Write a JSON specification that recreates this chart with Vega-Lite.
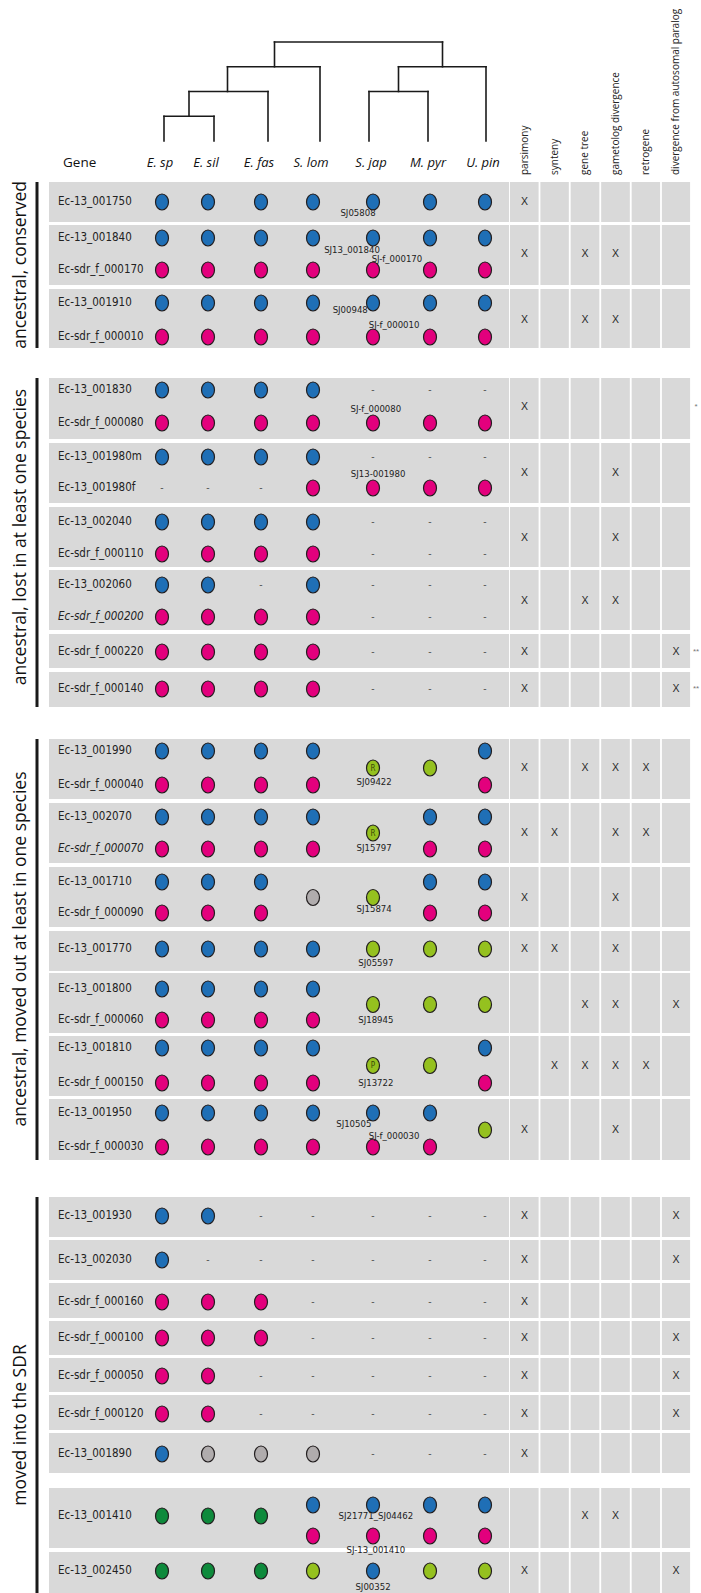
{
"$schema":"https://vega.github.io/schema/vega-lite/v6.json",
"width":701,"height":1593,"autosize":{"type":"none"},"padding":0,"background":"#ffffff",
"config":{"view":{"stroke":null}},
"datasets":{
"tree":[
{"pos":3.125,"pos2":6.25,"depth":0,"depth2":0},
{"pos":2.25,"pos2":4,"depth":1,"depth2":1},
{"pos":5.5,"pos2":7,"depth":1,"depth2":1},
{"pos":1.5,"pos2":3,"depth":2,"depth2":2},
{"pos":5,"pos2":6,"depth":2,"depth2":2},
{"pos":1,"pos2":2,"depth":3,"depth2":3},
{"pos":3.125,"pos2":3.125,"depth":0,"depth2":1},
{"pos":6.25,"pos2":6.25,"depth":0,"depth2":1},
{"pos":2.25,"pos2":2.25,"depth":1,"depth2":2},
{"pos":4,"pos2":4,"depth":1,"depth2":4},
{"pos":5.5,"pos2":5.5,"depth":1,"depth2":2},
{"pos":7,"pos2":7,"depth":1,"depth2":4},
{"pos":1.5,"pos2":1.5,"depth":2,"depth2":3},
{"pos":3,"pos2":3,"depth":2,"depth2":4},
{"pos":5,"pos2":5,"depth":2,"depth2":4},
{"pos":6,"pos2":6,"depth":2,"depth2":4},
{"pos":1,"pos2":1,"depth":3,"depth2":4},
{"pos":2,"pos2":2,"depth":3,"depth2":4}
],
"headers":[
{"label":"Gene","col":0,"kind":"gene"},
{"label":"E. sp","col":1,"kind":"species"},
{"label":"E. sil","col":2,"kind":"species"},
{"label":"E. fas","col":3,"kind":"species"},
{"label":"S. lom","col":4,"kind":"species"},
{"label":"S. jap","col":5,"kind":"species"},
{"label":"M. pyr","col":6,"kind":"species"},
{"label":"U. pin","col":7,"kind":"species"},
{"label":"parsimony","col":9,"kind":"evidence"},
{"label":"synteny","col":10,"kind":"evidence"},
{"label":"gene tree","col":11,"kind":"evidence"},
{"label":"gametolog divergence","col":12,"kind":"evidence"},
{"label":"retrogene","col":13,"kind":"evidence"},
{"label":"divergence from autosomal paralog","col":14,"kind":"evidence"}
],
"sections":[
{"section":"ancestral, conserved","first":1,"last":5,"labelrow":2.84},
{"section":"ancestral, lost in at least one species","first":6,"last":15,"labelrow":10.47},
{"section":"ancestral, moved out at least in one species","first":16,"last":28,"labelrow":22},
{"section":"moved into the SDR","first":29,"last":37,"labelrow":34.31}
],
"panels":[
{"panel":"A","first":1,"last":1,"parsimony":"X","synteny":"","genetree":"","gametolog":"","retrogene":"","divergence":""},
{"panel":"B","first":2,"last":3,"parsimony":"X","synteny":"","genetree":"X","gametolog":"X","retrogene":"","divergence":""},
{"panel":"C","first":4,"last":5,"parsimony":"X","synteny":"","genetree":"X","gametolog":"X","retrogene":"","divergence":""},
{"panel":"D","first":6,"last":7,"parsimony":"X","synteny":"","genetree":"","gametolog":"","retrogene":"","divergence":""},
{"panel":"E","first":8,"last":9,"parsimony":"X","synteny":"","genetree":"","gametolog":"X","retrogene":"","divergence":""},
{"panel":"F","first":10,"last":11,"parsimony":"X","synteny":"","genetree":"","gametolog":"X","retrogene":"","divergence":""},
{"panel":"G","first":12,"last":13,"parsimony":"X","synteny":"","genetree":"X","gametolog":"X","retrogene":"","divergence":""},
{"panel":"H","first":14,"last":14,"parsimony":"X","synteny":"","genetree":"","gametolog":"","retrogene":"","divergence":"X"},
{"panel":"I","first":15,"last":15,"parsimony":"X","synteny":"","genetree":"","gametolog":"","retrogene":"","divergence":"X"},
{"panel":"J","first":16,"last":17,"parsimony":"X","synteny":"","genetree":"X","gametolog":"X","retrogene":"X","divergence":""},
{"panel":"K","first":18,"last":19,"parsimony":"X","synteny":"X","genetree":"","gametolog":"X","retrogene":"X","divergence":""},
{"panel":"L","first":20,"last":21,"parsimony":"X","synteny":"","genetree":"","gametolog":"X","retrogene":"","divergence":""},
{"panel":"M","first":22,"last":22,"parsimony":"X","synteny":"X","genetree":"","gametolog":"X","retrogene":"","divergence":""},
{"panel":"N","first":23,"last":24,"parsimony":"","synteny":"","genetree":"X","gametolog":"X","retrogene":"","divergence":"X"},
{"panel":"O","first":25,"last":26,"parsimony":"","synteny":"X","genetree":"X","gametolog":"X","retrogene":"X","divergence":""},
{"panel":"P","first":27,"last":28,"parsimony":"X","synteny":"","genetree":"","gametolog":"X","retrogene":"","divergence":""},
{"panel":"Q","first":29,"last":29,"parsimony":"X","synteny":"","genetree":"","gametolog":"","retrogene":"","divergence":"X"},
{"panel":"R","first":30,"last":30,"parsimony":"X","synteny":"","genetree":"","gametolog":"","retrogene":"","divergence":"X"},
{"panel":"S","first":31,"last":31,"parsimony":"X","synteny":"","genetree":"","gametolog":"","retrogene":"","divergence":""},
{"panel":"T","first":32,"last":32,"parsimony":"X","synteny":"","genetree":"","gametolog":"","retrogene":"","divergence":"X"},
{"panel":"U","first":33,"last":33,"parsimony":"X","synteny":"","genetree":"","gametolog":"","retrogene":"","divergence":"X"},
{"panel":"V","first":34,"last":34,"parsimony":"X","synteny":"","genetree":"","gametolog":"","retrogene":"","divergence":"X"},
{"panel":"W","first":35,"last":35,"parsimony":"X","synteny":"","genetree":"","gametolog":"","retrogene":"","divergence":""},
{"panel":"X","first":36,"last":36,"parsimony":"","synteny":"","genetree":"X","gametolog":"X","retrogene":"","divergence":""},
{"panel":"Y","first":37,"last":37,"parsimony":"X","synteny":"","genetree":"","gametolog":"","retrogene":"","divergence":"X"}
],
"genes":[
{"row":1,"gene":"Ec-13_001750","pseudo":false},
{"row":2,"gene":"Ec-13_001840","pseudo":false},
{"row":3,"gene":"Ec-sdr_f_000170","pseudo":false},
{"row":4,"gene":"Ec-13_001910","pseudo":false},
{"row":5,"gene":"Ec-sdr_f_000010","pseudo":false},
{"row":6,"gene":"Ec-13_001830","pseudo":false},
{"row":7,"gene":"Ec-sdr_f_000080","pseudo":false},
{"row":8,"gene":"Ec-13_001980m","pseudo":false},
{"row":9,"gene":"Ec-13_001980f","pseudo":false},
{"row":10,"gene":"Ec-13_002040","pseudo":false},
{"row":11,"gene":"Ec-sdr_f_000110","pseudo":false},
{"row":12,"gene":"Ec-13_002060","pseudo":false},
{"row":13,"gene":"Ec-sdr_f_000200","pseudo":true},
{"row":14,"gene":"Ec-sdr_f_000220","pseudo":false},
{"row":15,"gene":"Ec-sdr_f_000140","pseudo":false},
{"row":16,"gene":"Ec-13_001990","pseudo":false},
{"row":17,"gene":"Ec-sdr_f_000040","pseudo":false},
{"row":18,"gene":"Ec-13_002070","pseudo":false},
{"row":19,"gene":"Ec-sdr_f_000070","pseudo":true},
{"row":20,"gene":"Ec-13_001710","pseudo":false},
{"row":21,"gene":"Ec-sdr_f_000090","pseudo":false},
{"row":22,"gene":"Ec-13_001770","pseudo":false},
{"row":23,"gene":"Ec-13_001800","pseudo":false},
{"row":24,"gene":"Ec-sdr_f_000060","pseudo":false},
{"row":25,"gene":"Ec-13_001810","pseudo":false},
{"row":26,"gene":"Ec-sdr_f_000150","pseudo":false},
{"row":27,"gene":"Ec-13_001950","pseudo":false},
{"row":28,"gene":"Ec-sdr_f_000030","pseudo":false},
{"row":29,"gene":"Ec-13_001930","pseudo":false},
{"row":30,"gene":"Ec-13_002030","pseudo":false},
{"row":31,"gene":"Ec-sdr_f_000160","pseudo":false},
{"row":32,"gene":"Ec-sdr_f_000100","pseudo":false},
{"row":33,"gene":"Ec-sdr_f_000050","pseudo":false},
{"row":34,"gene":"Ec-sdr_f_000120","pseudo":false},
{"row":35,"gene":"Ec-13_001890","pseudo":false},
{"row":36,"gene":"Ec-13_001410","pseudo":false},
{"row":37,"gene":"Ec-13_002450","pseudo":false}
],
"orthologs":[
{"label":"SJ05808","row":1.25,"sp":4.75},
{"label":"SJ13_001840","row":2.38,"sp":4.65},
{"label":"SJ-f_000170","row":2.66,"sp":5.42},
{"label":"SJ00948","row":4.2,"sp":4.62},
{"label":"SJ-f_000010","row":4.65,"sp":5.37},
{"label":"SJ-f_000080","row":6.58,"sp":5.05},
{"label":"SJ13-001980","row":8.55,"sp":5.09},
{"label":"SJ09422","row":16.9,"sp":5.02},
{"label":"SJ15797","row":18.97,"sp":5.02},
{"label":"SJ15874","row":20.87,"sp":5.02},
{"label":"SJ05597","row":22.29,"sp":5.05},
{"label":"SJ18945","row":24,"sp":5.05},
{"label":"SJ13722","row":26,"sp":5.05},
{"label":"SJ10505","row":27.32,"sp":4.68},
{"label":"SJ-f_000030","row":27.68,"sp":5.37},
{"label":"SJ21771_SJ04462","row":36,"sp":5.05},
{"label":"SJ-13_001410","row":36.5,"sp":5.05},
{"label":"SJ00352","row":37.32,"sp":5.0}
],
"letters":[
{"row":16.5,"sp":5,"letter":"R"},
{"row":18.5,"sp":5,"letter":"R"},
{"row":25.5,"sp":5,"letter":"P"}
],
"notes":[
{"row":6.5,"note":"*"},
{"row":14,"note":"**"},
{"row":15,"note":"**"}
],
"calls":[
{"row":1,"sp":1,"state":"male"},{"row":1,"sp":2,"state":"male"},{"row":1,"sp":3,"state":"male"},{"row":1,"sp":4,"state":"male"},{"row":1,"sp":5,"state":"male"},{"row":1,"sp":6,"state":"male"},{"row":1,"sp":7,"state":"male"},
{"row":2,"sp":1,"state":"male"},{"row":2,"sp":2,"state":"male"},{"row":2,"sp":3,"state":"male"},{"row":2,"sp":4,"state":"male"},{"row":2,"sp":5,"state":"male"},{"row":2,"sp":6,"state":"male"},{"row":2,"sp":7,"state":"male"},
{"row":3,"sp":1,"state":"female"},{"row":3,"sp":2,"state":"female"},{"row":3,"sp":3,"state":"female"},{"row":3,"sp":4,"state":"female"},{"row":3,"sp":5,"state":"female"},{"row":3,"sp":6,"state":"female"},{"row":3,"sp":7,"state":"female"},
{"row":4,"sp":1,"state":"male"},{"row":4,"sp":2,"state":"male"},{"row":4,"sp":3,"state":"male"},{"row":4,"sp":4,"state":"male"},{"row":4,"sp":5,"state":"male"},{"row":4,"sp":6,"state":"male"},{"row":4,"sp":7,"state":"male"},
{"row":5,"sp":1,"state":"female"},{"row":5,"sp":2,"state":"female"},{"row":5,"sp":3,"state":"female"},{"row":5,"sp":4,"state":"female"},{"row":5,"sp":5,"state":"female"},{"row":5,"sp":6,"state":"female"},{"row":5,"sp":7,"state":"female"},
{"row":6,"sp":1,"state":"male"},{"row":6,"sp":2,"state":"male"},{"row":6,"sp":3,"state":"male"},{"row":6,"sp":4,"state":"male"},{"row":6,"sp":5,"state":"absent"},{"row":6,"sp":6,"state":"absent"},{"row":6,"sp":7,"state":"absent"},
{"row":7,"sp":1,"state":"female"},{"row":7,"sp":2,"state":"female"},{"row":7,"sp":3,"state":"female"},{"row":7,"sp":4,"state":"female"},{"row":7,"sp":5,"state":"female"},{"row":7,"sp":6,"state":"female"},{"row":7,"sp":7,"state":"female"},
{"row":8,"sp":1,"state":"male"},{"row":8,"sp":2,"state":"male"},{"row":8,"sp":3,"state":"male"},{"row":8,"sp":4,"state":"male"},{"row":8,"sp":5,"state":"absent"},{"row":8,"sp":6,"state":"absent"},{"row":8,"sp":7,"state":"absent"},
{"row":9,"sp":1,"state":"absent"},{"row":9,"sp":2,"state":"absent"},{"row":9,"sp":3,"state":"absent"},{"row":9,"sp":4,"state":"female"},{"row":9,"sp":5,"state":"female"},{"row":9,"sp":6,"state":"female"},{"row":9,"sp":7,"state":"female"},
{"row":10,"sp":1,"state":"male"},{"row":10,"sp":2,"state":"male"},{"row":10,"sp":3,"state":"male"},{"row":10,"sp":4,"state":"male"},{"row":10,"sp":5,"state":"absent"},{"row":10,"sp":6,"state":"absent"},{"row":10,"sp":7,"state":"absent"},
{"row":11,"sp":1,"state":"female"},{"row":11,"sp":2,"state":"female"},{"row":11,"sp":3,"state":"female"},{"row":11,"sp":4,"state":"female"},{"row":11,"sp":5,"state":"absent"},{"row":11,"sp":6,"state":"absent"},{"row":11,"sp":7,"state":"absent"},
{"row":12,"sp":1,"state":"male"},{"row":12,"sp":2,"state":"male"},{"row":12,"sp":3,"state":"absent"},{"row":12,"sp":4,"state":"male"},{"row":12,"sp":5,"state":"absent"},{"row":12,"sp":6,"state":"absent"},{"row":12,"sp":7,"state":"absent"},
{"row":13,"sp":1,"state":"female"},{"row":13,"sp":2,"state":"female"},{"row":13,"sp":3,"state":"female"},{"row":13,"sp":4,"state":"female"},{"row":13,"sp":5,"state":"absent"},{"row":13,"sp":6,"state":"absent"},{"row":13,"sp":7,"state":"absent"},
{"row":14,"sp":1,"state":"female"},{"row":14,"sp":2,"state":"female"},{"row":14,"sp":3,"state":"female"},{"row":14,"sp":4,"state":"female"},{"row":14,"sp":5,"state":"absent"},{"row":14,"sp":6,"state":"absent"},{"row":14,"sp":7,"state":"absent"},
{"row":15,"sp":1,"state":"female"},{"row":15,"sp":2,"state":"female"},{"row":15,"sp":3,"state":"female"},{"row":15,"sp":4,"state":"female"},{"row":15,"sp":5,"state":"absent"},{"row":15,"sp":6,"state":"absent"},{"row":15,"sp":7,"state":"absent"},
{"row":16,"sp":1,"state":"male"},{"row":16,"sp":2,"state":"male"},{"row":16,"sp":3,"state":"male"},{"row":16,"sp":4,"state":"male"},{"row":16,"sp":7,"state":"male"},
{"row":17,"sp":1,"state":"female"},{"row":17,"sp":2,"state":"female"},{"row":17,"sp":3,"state":"female"},{"row":17,"sp":4,"state":"female"},{"row":17,"sp":7,"state":"female"},
{"row":16.5,"sp":5,"state":"autosomal"},{"row":16.5,"sp":6,"state":"autosomal"},
{"row":18,"sp":1,"state":"male"},{"row":18,"sp":2,"state":"male"},{"row":18,"sp":3,"state":"male"},{"row":18,"sp":4,"state":"male"},{"row":18,"sp":6,"state":"male"},{"row":18,"sp":7,"state":"male"},
{"row":19,"sp":1,"state":"female"},{"row":19,"sp":2,"state":"female"},{"row":19,"sp":3,"state":"female"},{"row":19,"sp":4,"state":"female"},{"row":19,"sp":6,"state":"female"},{"row":19,"sp":7,"state":"female"},
{"row":18.5,"sp":5,"state":"autosomal"},
{"row":20,"sp":1,"state":"male"},{"row":20,"sp":2,"state":"male"},{"row":20,"sp":3,"state":"male"},{"row":20,"sp":6,"state":"male"},{"row":20,"sp":7,"state":"male"},
{"row":21,"sp":1,"state":"female"},{"row":21,"sp":2,"state":"female"},{"row":21,"sp":3,"state":"female"},{"row":21,"sp":6,"state":"female"},{"row":21,"sp":7,"state":"female"},
{"row":20.5,"sp":4,"state":"unresolved"},{"row":20.5,"sp":5,"state":"autosomal"},
{"row":22,"sp":1,"state":"male"},{"row":22,"sp":2,"state":"male"},{"row":22,"sp":3,"state":"male"},{"row":22,"sp":4,"state":"male"},{"row":22,"sp":5,"state":"autosomal"},{"row":22,"sp":6,"state":"autosomal"},{"row":22,"sp":7,"state":"autosomal"},
{"row":23,"sp":1,"state":"male"},{"row":23,"sp":2,"state":"male"},{"row":23,"sp":3,"state":"male"},{"row":23,"sp":4,"state":"male"},
{"row":24,"sp":1,"state":"female"},{"row":24,"sp":2,"state":"female"},{"row":24,"sp":3,"state":"female"},{"row":24,"sp":4,"state":"female"},
{"row":23.5,"sp":5,"state":"autosomal"},{"row":23.5,"sp":6,"state":"autosomal"},{"row":23.5,"sp":7,"state":"autosomal"},
{"row":25,"sp":1,"state":"male"},{"row":25,"sp":2,"state":"male"},{"row":25,"sp":3,"state":"male"},{"row":25,"sp":4,"state":"male"},{"row":25,"sp":7,"state":"male"},
{"row":26,"sp":1,"state":"female"},{"row":26,"sp":2,"state":"female"},{"row":26,"sp":3,"state":"female"},{"row":26,"sp":4,"state":"female"},{"row":26,"sp":7,"state":"female"},
{"row":25.5,"sp":5,"state":"autosomal"},{"row":25.5,"sp":6,"state":"autosomal"},
{"row":27,"sp":1,"state":"male"},{"row":27,"sp":2,"state":"male"},{"row":27,"sp":3,"state":"male"},{"row":27,"sp":4,"state":"male"},{"row":27,"sp":5,"state":"male"},{"row":27,"sp":6,"state":"male"},
{"row":28,"sp":1,"state":"female"},{"row":28,"sp":2,"state":"female"},{"row":28,"sp":3,"state":"female"},{"row":28,"sp":4,"state":"female"},{"row":28,"sp":5,"state":"female"},{"row":28,"sp":6,"state":"female"},
{"row":27.5,"sp":7,"state":"autosomal"},
{"row":29,"sp":1,"state":"male"},{"row":29,"sp":2,"state":"male"},{"row":29,"sp":3,"state":"absent"},{"row":29,"sp":4,"state":"absent"},{"row":29,"sp":5,"state":"absent"},{"row":29,"sp":6,"state":"absent"},{"row":29,"sp":7,"state":"absent"},
{"row":30,"sp":1,"state":"male"},{"row":30,"sp":2,"state":"absent"},{"row":30,"sp":3,"state":"absent"},{"row":30,"sp":4,"state":"absent"},{"row":30,"sp":5,"state":"absent"},{"row":30,"sp":6,"state":"absent"},{"row":30,"sp":7,"state":"absent"},
{"row":31,"sp":1,"state":"female"},{"row":31,"sp":2,"state":"female"},{"row":31,"sp":3,"state":"female"},{"row":31,"sp":4,"state":"absent"},{"row":31,"sp":5,"state":"absent"},{"row":31,"sp":6,"state":"absent"},{"row":31,"sp":7,"state":"absent"},
{"row":32,"sp":1,"state":"female"},{"row":32,"sp":2,"state":"female"},{"row":32,"sp":3,"state":"female"},{"row":32,"sp":4,"state":"absent"},{"row":32,"sp":5,"state":"absent"},{"row":32,"sp":6,"state":"absent"},{"row":32,"sp":7,"state":"absent"},
{"row":33,"sp":1,"state":"female"},{"row":33,"sp":2,"state":"female"},{"row":33,"sp":3,"state":"absent"},{"row":33,"sp":4,"state":"absent"},{"row":33,"sp":5,"state":"absent"},{"row":33,"sp":6,"state":"absent"},{"row":33,"sp":7,"state":"absent"},
{"row":34,"sp":1,"state":"female"},{"row":34,"sp":2,"state":"female"},{"row":34,"sp":3,"state":"absent"},{"row":34,"sp":4,"state":"absent"},{"row":34,"sp":5,"state":"absent"},{"row":34,"sp":6,"state":"absent"},{"row":34,"sp":7,"state":"absent"},
{"row":35,"sp":1,"state":"male"},{"row":35,"sp":2,"state":"unresolved"},{"row":35,"sp":3,"state":"unresolved"},{"row":35,"sp":4,"state":"unresolved"},{"row":35,"sp":5,"state":"absent"},{"row":35,"sp":6,"state":"absent"},{"row":35,"sp":7,"state":"absent"},
{"row":36,"sp":1,"state":"ancestral autosomal"},{"row":36,"sp":2,"state":"ancestral autosomal"},{"row":36,"sp":3,"state":"ancestral autosomal"},
{"row":35.75,"sp":4,"state":"male"},{"row":35.75,"sp":5,"state":"male"},{"row":35.75,"sp":6,"state":"male"},{"row":35.75,"sp":7,"state":"male"},
{"row":36.25,"sp":4,"state":"female"},{"row":36.25,"sp":5,"state":"female"},{"row":36.25,"sp":6,"state":"female"},{"row":36.25,"sp":7,"state":"female"},
{"row":37,"sp":1,"state":"ancestral autosomal"},{"row":37,"sp":2,"state":"ancestral autosomal"},{"row":37,"sp":3,"state":"ancestral autosomal"},{"row":37,"sp":4,"state":"autosomal"},{"row":37,"sp":5,"state":"male"},{"row":37,"sp":6,"state":"autosomal"},{"row":37,"sp":7,"state":"autosomal"}
]
},
"layer":[
{
"data":{"name":"tree"},
"mark":{"type":"rule","stroke":"#1a1a1a","strokeWidth":1.6,"strokeCap":"square"},
"encoding":{
"x":{"field":"pos","type":"quantitative","axis":null,"scale":{"domain":[1,2,3,4,5,6,7],"range":[164,214,268,320,369,428,486],"zero":false,"nice":false}},
"x2":{"field":"pos2"},
"y":{"field":"depth","type":"quantitative","axis":null,"scale":{"domain":[0,4],"range":[42,141],"zero":false,"nice":false}},
"y2":{"field":"depth2"}
}
},
{
"layer":[
{
"data":{"name":"panels"},
"transform":[{"calculate":"datum.first-0.45","as":"top"},{"calculate":"datum.last+0.45","as":"bottom"}],
"mark":{"type":"rect","fill":"#d9d9d9"},
"encoding":{
"x":{"datum":0,"type":"quantitative","axis":null,"scale":{"domain":[-1,-0.5,0,1,2,3,4,5,6,7,8.5,9,10,11,12,13,14,14.5,15],"range":[21,37,49,162,208,261,313,373,430,485,509,524.5,554.5,585,615.5,646,676,691,696],"zero":false,"nice":false}},
"x2":{"datum":8.5},
"y":{"field":"top","type":"quantitative","axis":null,"scale":{"domain":[0,0.55,1,1.45,1.55,2,3,3.45,3.55,4,5,5.45,5.55,6,7,7.45,7.55,8,9,9.45,9.55,10,11,11.45,11.55,12,13,13.45,13.55,14,14.45,14.55,15,15.45,15.55,16,17,17.45,17.55,18,19,19.45,19.55,20,21,21.45,21.55,22,22.45,22.55,23,24,24.45,24.55,25,26,26.45,26.55,27,28,28.45,28.55,29,29.45,29.55,30,30.45,30.55,31,31.45,31.55,32,32.45,32.55,33,33.45,33.55,34,34.45,34.55,35,35.45,35.55,35.75,36,36.25,36.45,36.55,37,37.45],"range":[163,182,202,222,225,238,270,285,289,303,337,348,378,390,423,439,443,457,488,503,507,522,554,567,570,585,617,630,634,652,668,672,689,707,739,751,785,799,803,817,849,863,867,882,913,927,931,949,971,973,989,1020,1033,1036,1048,1083,1096,1099,1113,1147,1160,1197,1216,1237,1240,1260,1280,1283,1302,1318,1321,1338,1355,1358,1376,1392,1395,1414,1430,1433,1454,1473,1488,1505,1516,1536,1548,1552,1571,1593],"zero":false,"nice":false}},
"y2":{"field":"bottom"}
}
},
{
"data":{"name":"panels"},
"transform":[
{"fold":["parsimony","synteny","genetree","gametolog","retrogene","divergence"],"as":["evidence","call"]},
{"lookup":"evidence","from":{"data":{"values":[{"key":"parsimony","col":9},{"key":"synteny","col":10},{"key":"genetree","col":11},{"key":"gametolog","col":12},{"key":"retrogene","col":13},{"key":"divergence","col":14}]},"key":"key","fields":["col"]}},
{"calculate":"datum.first-0.45","as":"top"},{"calculate":"datum.last+0.45","as":"bottom"},
{"calculate":"datum.col-0.47","as":"left"},{"calculate":"datum.col+0.47","as":"right"},
{"calculate":"(datum.first+datum.last)/2","as":"mid"}
],
"layer":[
{"mark":{"type":"rect","fill":"#d9d9d9"},
"encoding":{"x":{"field":"left","type":"quantitative"},"x2":{"field":"right"},"y":{"field":"top","type":"quantitative"},"y2":{"field":"bottom"}}},
{"mark":{"type":"text","font":"Liberation Sans","fontSize":10.5,"color":"#2a2a2a","align":"center","baseline":"middle"},
"encoding":{"x":{"field":"col","type":"quantitative"},"y":{"field":"mid","type":"quantitative"},"text":{"field":"call"}}}
]
},
{
"data":{"name":"sections"},
"transform":[{"calculate":"datum.first-0.45","as":"top"},{"calculate":"datum.last+0.45","as":"bottom"}],
"mark":{"type":"rule","stroke":"#1a1a1a","strokeWidth":3},
"encoding":{"x":{"datum":-0.5,"type":"quantitative"},"y":{"field":"top","type":"quantitative"},"y2":{"field":"bottom"}}
},
{
"data":{"name":"sections"},
"mark":{"type":"text","font":"Open Sans","fontSize":17.5,"color":"#111111","angle":270,"align":"center","baseline":"middle"},
"encoding":{"x":{"datum":-1,"type":"quantitative"},"y":{"field":"labelrow","type":"quantitative"},"text":{"field":"section"}}
},
{
"data":{"name":"calls"},
"transform":[{"filter":"datum.state != 'absent'"}],
"mark":{"type":"point","shape":"M-0.8125,0A0.8125,1,0,1,1,0.8125,0A0.8125,1,0,1,1,-0.8125,0Z","size":256,"filled":true,"fillOpacity":1,"stroke":"#231f20","strokeWidth":1.2,"opacity":1},
"encoding":{
"x":{"field":"sp","type":"quantitative"},
"y":{"field":"row","type":"quantitative"},
"fill":{"field":"state","type":"nominal","legend":null,"scale":{"domain":["male","female","autosomal","ancestral autosomal","unresolved"],"range":["#1f6fb6","#e3007d","#95c11f","#0e8a3c","#b0acad"]}}
}
},
{
"data":{"name":"letters"},
"mark":{"type":"text","font":"Liberation Sans Narrow, DejaVu Sans Condensed, Roboto, sans-serif","fontSize":8,"color":"#3a4a05","align":"center","baseline":"middle","dy":0.5},
"encoding":{"x":{"field":"sp","type":"quantitative"},"y":{"field":"row","type":"quantitative"},"text":{"field":"letter"}}
},
{
"data":{"name":"calls"},
"transform":[{"filter":"datum.state == 'absent'"}],
"mark":{"type":"text","text":"-","font":"Liberation Sans","fontSize":10,"color":"#555555","align":"center","baseline":"middle"},
"encoding":{"x":{"field":"sp","type":"quantitative"},"y":{"field":"row","type":"quantitative"}}
},
{
"data":{"name":"genes"},
"transform":[{"filter":"!datum.pseudo"}],
"mark":{"type":"text","font":"Liberation Sans Narrow, DejaVu Sans Condensed, Roboto, sans-serif","fontSize":11.5,"color":"#222222","align":"left","baseline":"middle","dx":9},
"encoding":{"x":{"datum":0,"type":"quantitative"},"y":{"field":"row","type":"quantitative"},"text":{"field":"gene"}}
},
{
"data":{"name":"genes"},
"transform":[{"filter":"datum.pseudo"}],
"mark":{"type":"text","font":"Liberation Sans Narrow, DejaVu Sans Condensed, Roboto, sans-serif","fontSize":11.5,"fontStyle":"italic","color":"#222222","align":"left","baseline":"middle","dx":9},
"encoding":{"x":{"datum":0,"type":"quantitative"},"y":{"field":"row","type":"quantitative"},"text":{"field":"gene"}}
},
{
"data":{"name":"orthologs"},
"mark":{"type":"text","font":"Liberation Sans Narrow, DejaVu Sans Condensed, Roboto, sans-serif","fontSize":9.5,"color":"#222222","align":"center","baseline":"middle"},
"encoding":{"x":{"field":"sp","type":"quantitative"},"y":{"field":"row","type":"quantitative"},"text":{"field":"label"}}
},
{
"data":{"name":"notes"},
"mark":{"type":"text","font":"Liberation Sans","fontSize":8,"color":"#777777","align":"center","baseline":"middle"},
"encoding":{"x":{"datum":15,"type":"quantitative"},"y":{"field":"row","type":"quantitative"},"text":{"field":"note"}}
},
{
"data":{"name":"headers"},
"transform":[{"filter":"datum.kind == 'gene'"}],
"mark":{"type":"text","font":"Open Sans","fontSize":13.5,"color":"#111111","align":"left","baseline":"middle","dx":14},
"encoding":{"x":{"field":"col","type":"quantitative"},"y":{"datum":0,"type":"quantitative"},"text":{"field":"label"}}
},
{
"data":{"name":"headers"},
"transform":[{"filter":"datum.kind == 'species'"}],
"mark":{"type":"text","font":"Open Sans","fontSize":13,"fontStyle":"italic","color":"#111111","align":"center","baseline":"middle","dx":-2},
"encoding":{"x":{"field":"col","type":"quantitative"},"y":{"datum":0,"type":"quantitative"},"text":{"field":"label"}}
},
{
"data":{"name":"headers"},
"transform":[{"filter":"datum.kind == 'evidence'"}],
"mark":{"type":"text","font":"Open Sans","fontSize":10,"color":"#222222","angle":270,"align":"left","baseline":"middle","dx":-12},
"encoding":{"x":{"field":"col","type":"quantitative"},"y":{"datum":0,"type":"quantitative"},"text":{"field":"label"}}
}
]
}
],
"resolve":{"scale":{"x":"independent","y":"independent"}}
}
